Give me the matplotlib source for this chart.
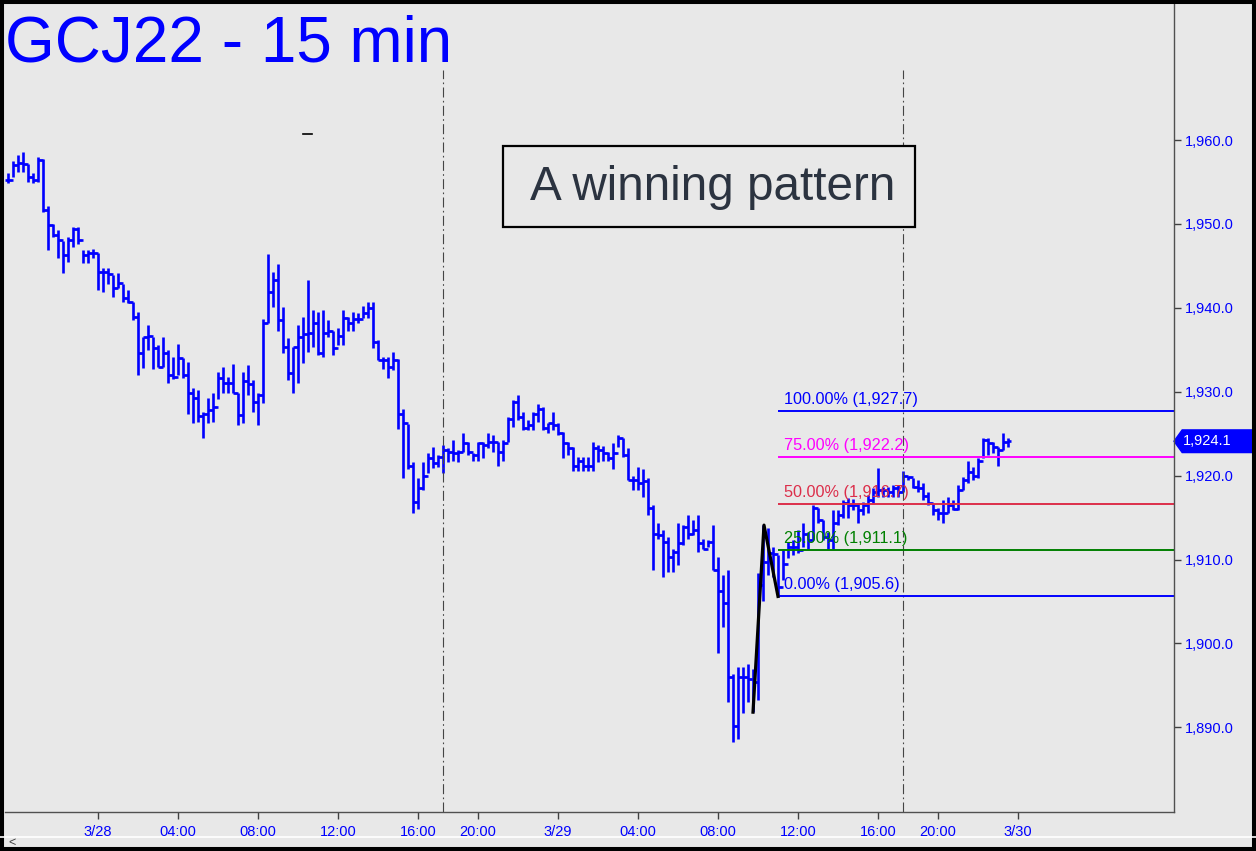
import matplotlib.pyplot as plt
from matplotlib.patches import Rectangle, Polygon
from matplotlib.transforms import blended_transform_factory

plt.rcParams['font.family'] = ['Liberation Sans', 'DejaVu Sans']

# 15 minute bars of GCJ22 (one value per bar)
highs = [
    1956.1, 1957.5, 1958.2, 1958.6, 1957.1, 1956.1, 1958.0, 1957.7, 1952.2, 1950.0,
    1949.3, 1948.0, 1948.4, 1949.6, 1949.6, 1946.9, 1946.9, 1947.0, 1946.5, 1944.7,
    1944.7, 1943.9, 1944.1, 1942.9, 1942.1, 1940.7, 1939.5, 1936.5, 1937.9, 1936.5,
    1935.6, 1936.5, 1935.0, 1934.1, 1935.7, 1934.0, 1933.5, 1930.5, 1930.2, 1927.6,
    1929.2, 1929.9, 1932.3, 1933.0, 1931.7, 1933.3, 1929.9, 1932.3, 1933.2, 1931.4,
    1929.9, 1938.7, 1946.4, 1944.3, 1945.2, 1940.1, 1936.4, 1935.3, 1937.9, 1938.9,
    1943.3, 1939.8, 1939.5, 1939.7, 1938.5, 1937.3, 1937.6, 1939.7, 1938.9, 1939.5,
    1939.4, 1940.2, 1940.7, 1940.7, 1936.2, 1934.2, 1934.1, 1934.7, 1933.9, 1927.9,
    1926.2, 1921.6, 1919.7, 1921.6, 1922.7, 1923.4, 1922.4, 1923.6, 1923.3, 1924.2,
    1923.0, 1925.1, 1924.0, 1922.7, 1924.0, 1924.0, 1925.1, 1924.9, 1924.0, 1924.2,
    1927.0, 1929.0, 1929.6, 1927.6, 1926.6, 1927.6, 1928.5, 1928.2, 1926.3, 1927.6,
    1926.3, 1925.2, 1924.0, 1923.4, 1922.2, 1922.2, 1922.2, 1924.0, 1923.6, 1923.5,
    1922.8, 1923.9, 1924.8, 1924.5, 1923.3, 1920.0, 1921.0, 1920.8, 1919.7, 1916.5,
    1914.4, 1913.5, 1912.7, 1911.3, 1914.4, 1914.1, 1915.3, 1914.7, 1915.3, 1912.5,
    1912.3, 1914.1, 1910.3, 1908.1, 1908.7, 1896.4, 1897.2, 1897.2, 1897.6, 1897.0,
    1908.4, 1914.1, 1913.7, 1911.5, 1910.5, 1911.1, 1912.1, 1912.3, 1913.5, 1914.4,
    1913.3, 1916.5, 1916.1, 1914.7, 1913.3, 1915.9, 1915.9, 1917.1, 1917.3, 1917.2,
    1916.7, 1916.8, 1917.7, 1918.5, 1920.9, 1918.6, 1918.6, 1918.9, 1918.9, 1920.6,
    1920.0, 1919.7, 1919.5, 1919.1, 1918.0, 1916.7, 1916.1, 1917.1, 1917.4, 1917.1,
    1918.9, 1919.8, 1921.8, 1921.0, 1922.1, 1924.5, 1924.5, 1924.0, 1923.4, 1925.1,
    1924.5,
]
lows = [
    1954.9, 1955.6, 1956.2, 1956.2, 1955.0, 1954.9, 1955.0, 1951.4, 1946.9, 1948.5,
    1945.9, 1944.1, 1945.5, 1947.2, 1947.6, 1945.4, 1945.4, 1946.0, 1942.1, 1941.9,
    1942.9, 1941.3, 1942.4, 1940.7, 1940.6, 1938.5, 1932.0, 1932.8, 1935.0, 1932.7,
    1933.0, 1933.0, 1931.0, 1931.5, 1932.0, 1931.6, 1927.4, 1926.3, 1926.4, 1924.5,
    1926.3, 1926.4, 1929.1, 1929.9, 1929.9, 1929.8, 1926.0, 1926.3, 1929.6, 1927.6,
    1926.0, 1928.6, 1938.2, 1940.1, 1937.3, 1934.6, 1931.4, 1929.8, 1931.0, 1933.4,
    1934.7, 1935.3, 1934.4, 1934.1, 1936.5, 1934.4, 1935.6, 1935.6, 1937.3, 1937.3,
    1938.2, 1938.8, 1938.8, 1935.2, 1933.8, 1932.7, 1931.6, 1932.6, 1925.5, 1919.7,
    1920.8, 1915.6, 1916.0, 1918.3, 1920.3, 1920.9, 1921.0, 1920.3, 1921.6, 1921.8,
    1921.6, 1922.8, 1922.4, 1921.8, 1921.8, 1922.1, 1923.3, 1922.8, 1921.2, 1921.8,
    1924.0, 1925.8, 1926.6, 1925.4, 1925.4, 1925.4, 1926.4, 1925.4, 1925.1, 1925.4,
    1924.8, 1922.1, 1922.4, 1920.6, 1920.5, 1920.6, 1920.6, 1920.6, 1921.6, 1921.8,
    1921.8, 1920.8, 1923.4, 1922.2, 1919.5, 1918.3, 1918.3, 1917.4, 1915.3, 1908.7,
    1912.5, 1907.9, 1908.5, 1908.5, 1909.3, 1911.7, 1912.5, 1912.9, 1910.9, 1911.3,
    1911.5, 1908.7, 1898.9, 1901.9, 1893.0, 1888.2, 1888.6, 1891.7, 1893.0, 1891.8,
    1893.2, 1905.1, 1908.1, 1907.9, 1905.5, 1907.5, 1910.2, 1910.5, 1910.8, 1911.5,
    1911.3, 1912.3, 1914.4, 1912.3, 1911.3, 1911.3, 1914.1, 1914.9, 1915.0, 1915.9,
    1914.4, 1915.3, 1915.5, 1916.7, 1917.4, 1917.4, 1917.4, 1917.4, 1917.4, 1918.0,
    1919.5, 1918.5, 1918.0, 1917.1, 1916.5, 1915.3, 1914.7, 1914.4, 1915.5, 1915.9,
    1915.9, 1918.3, 1919.1, 1919.5, 1919.7, 1922.1, 1922.4, 1922.7, 1921.2, 1923.0,
    1923.4,
]
closes = [
    1955.3, 1957.0, 1957.3, 1957.2, 1955.6, 1955.2, 1957.6, 1951.7, 1949.9, 1948.7,
    1948.1, 1946.3, 1948.1, 1949.4, 1948.1, 1946.3, 1946.5, 1946.5, 1944.3, 1944.3,
    1944.0, 1942.4, 1943.0, 1941.2, 1940.7, 1938.9, 1934.6, 1936.5, 1936.6, 1935.2,
    1933.0, 1934.6, 1932.0, 1931.7, 1934.0, 1932.0, 1929.8, 1929.2, 1927.1, 1927.4,
    1927.8, 1928.2, 1931.6, 1931.1, 1931.1, 1929.9, 1927.2, 1931.3, 1930.9, 1928.8,
    1929.6, 1938.2, 1941.9, 1943.3, 1938.5, 1935.3, 1932.2, 1935.3, 1936.5, 1936.9,
    1937.0, 1938.2, 1934.6, 1937.0, 1937.3, 1935.2, 1936.7, 1938.8, 1938.2, 1938.7,
    1938.7, 1939.4, 1940.0, 1935.9, 1933.8, 1933.8, 1933.0, 1933.8, 1927.4, 1926.3,
    1921.2, 1916.8, 1918.5, 1920.0, 1922.1, 1921.5, 1922.2, 1923.0, 1922.8, 1922.7,
    1922.8, 1923.9, 1922.8, 1922.4, 1923.9, 1923.6, 1924.0, 1924.0, 1922.8, 1923.9,
    1926.8, 1928.8, 1927.0, 1925.7, 1926.0, 1927.4, 1928.0, 1925.7, 1926.3, 1926.0,
    1925.1, 1923.9, 1923.3, 1921.2, 1921.8, 1921.2, 1921.2, 1923.3, 1923.0, 1922.7,
    1922.1, 1922.7, 1924.5, 1922.4, 1919.5, 1919.5, 1919.1, 1919.3, 1916.2, 1913.1,
    1912.9, 1912.1, 1910.3, 1910.9, 1912.0, 1913.9, 1913.1, 1913.5, 1912.0, 1911.3,
    1912.1, 1908.7, 1906.3, 1904.8, 1896.0, 1890.2, 1896.0, 1896.0, 1895.8, 1895.4,
    1907.0, 1909.7, 1910.8, 1910.6, 1906.7, 1909.5, 1911.5, 1911.5, 1911.1, 1913.1,
    1912.3, 1916.1, 1914.7, 1912.7, 1912.3, 1914.4, 1915.3, 1916.7, 1916.5, 1916.5,
    1915.9, 1916.5, 1917.1, 1918.0, 1918.3, 1918.3, 1918.1, 1918.5, 1918.1, 1920.0,
    1919.8, 1918.6, 1918.5, 1917.6, 1916.7, 1915.9, 1915.5, 1915.6, 1916.5, 1916.0,
    1918.3, 1919.5, 1920.4, 1920.0, 1921.8, 1924.2, 1923.9, 1923.4, 1923.0, 1924.0,
    1924.1,
]
opens = [closes[0]] + closes[:-1]

tick_pos = [18, 34, 50, 66, 82, 94, 110, 126, 142, 158, 174, 186, 202]
tick_labels = ['3/28', '04:00', '08:00', '12:00', '16:00', '20:00', '3/29',
               '04:00', '08:00', '12:00', '16:00', '20:00', '3/30']
price_ticks = [1890, 1900, 1910, 1920, 1930, 1940, 1950, 1960]

session_breaks = [87, 179]

# fibonacci retracement of the ABC pattern
fib_low = 1905.6
fib_high = 1927.7
fib_start = 154
fib_pcts = [1.0, 0.75, 0.5, 0.25, 0.0]
fib_colors = ['#0000ff', '#ff00ff', '#dc2e4a', '#008000', '#0000ff']

pattern_idx = [149, 151.2, 154]
pattern_px = [1891.8, 1914.1, 1905.6]

dash_idx = [59.0, 60.7]
dash_px = [1960.7, 1960.7]

last_price = 1924.1

bg = '#e8e8e8'
blue = '#0000ff'

fig = plt.figure(figsize=(12.56, 8.51), dpi=100, facecolor=bg)
ax = fig.add_axes([5 / 1256, 1 - 812 / 851, 1169 / 1256, 812 / 851])
ax.set_facecolor(bg)

x = list(range(len(closes)))
ax.vlines(x, lows, highs, color=blue, linewidth=1.9)
ax.hlines(opens, [i - 0.55 for i in x], x, color=blue, linewidth=1.9)
ax.hlines(closes, x, [i + 0.55 for i in x], color=blue, linewidth=1.9)

for s in session_breaks:
    ax.axvline(s, ymax=0.914, color='#444444', linewidth=0.8,
               linestyle=(0, (9, 3, 1.5, 3)))

rng = fib_high - fib_low
for pct, col in zip(fib_pcts, fib_colors):
    lvl = fib_low + rng * pct
    ax.hlines(lvl, fib_start, 240, color=col, linewidth=1.4)
    ax.annotate(f"{pct * 100:.2f}% ({lvl:,.1f})", (fib_start + 1.2, lvl),
                xytext=(0, 3), textcoords='offset points',
                color=col, fontsize=11.7, va='bottom', ha='left')

ax.plot(pattern_idx, pattern_px, color='black', linewidth=2.3)
ax.plot(dash_idx, dash_px, color='black', linewidth=1.2)

ax.set_xlim(-0.6, 233.2)
ax.set_ylim(1879.9, 1976.7)

ax.set_xticks(tick_pos)
ax.set_xticklabels(tick_labels)
ax.set_yticks(price_ticks)
ax.set_yticklabels([f"{p:,.1f}" for p in price_ticks])
ax.yaxis.tick_right()
ax.tick_params(axis='both', colors='#404040', labelcolor=blue, labelsize=10.5,
               length=5, width=1)
ax.tick_params(axis='y', pad=3)
ax.tick_params(axis='x', pad=4)
for side in ['left', 'top']:
    ax.spines[side].set_visible(False)
for side in ['right', 'bottom']:
    ax.spines[side].set_color('#505050')
    ax.spines[side].set_linewidth(1)

# last price tag
tr = blended_transform_factory(ax.transAxes, ax.transData)
h = 1.35
tag = Polygon([(1.0, last_price), (1.007, last_price + h), (1.067, last_price + h),
               (1.067, last_price - h), (1.007, last_price - h)],
              closed=True, transform=tr, facecolor=blue, edgecolor=blue,
              clip_on=False)
ax.add_patch(tag)
ax.text(1.008, last_price, f"{last_price:,.1f}", transform=tr, color='white',
        fontsize=10.5, va='center', ha='left', clip_on=False)

fig.text(5 / 1256, 1 - 62 / 851, 'GCJ22 - 15 min', fontsize=46, color=blue,
         va='baseline', ha='left')

fig.patches.append(Rectangle((503 / 1256, 1 - 227 / 851), 412 / 1256, 81 / 851,
                             transform=fig.transFigure, facecolor=bg,
                             edgecolor='black', linewidth=1.6))
fig.text(713 / 1256, 1 - 200 / 851, 'A winning pattern', fontsize=34.3,
         color='#2b3340', va='baseline', ha='center')

# scroll strip and window frame
fig.add_artist(plt.Line2D([0, 1], [1 - 837 / 851] * 2, color='white', linewidth=1.2))
fig.text(8 / 1256, 1 - 843 / 851, '<', fontsize=9, color='#404040',
         va='center', ha='left')
fig.patches.append(Rectangle((0, 0), 1, 1, transform=fig.transFigure,
                             facecolor='none', edgecolor='black', linewidth=5.8))

fig.savefig('out.png', dpi=100, facecolor=bg)
